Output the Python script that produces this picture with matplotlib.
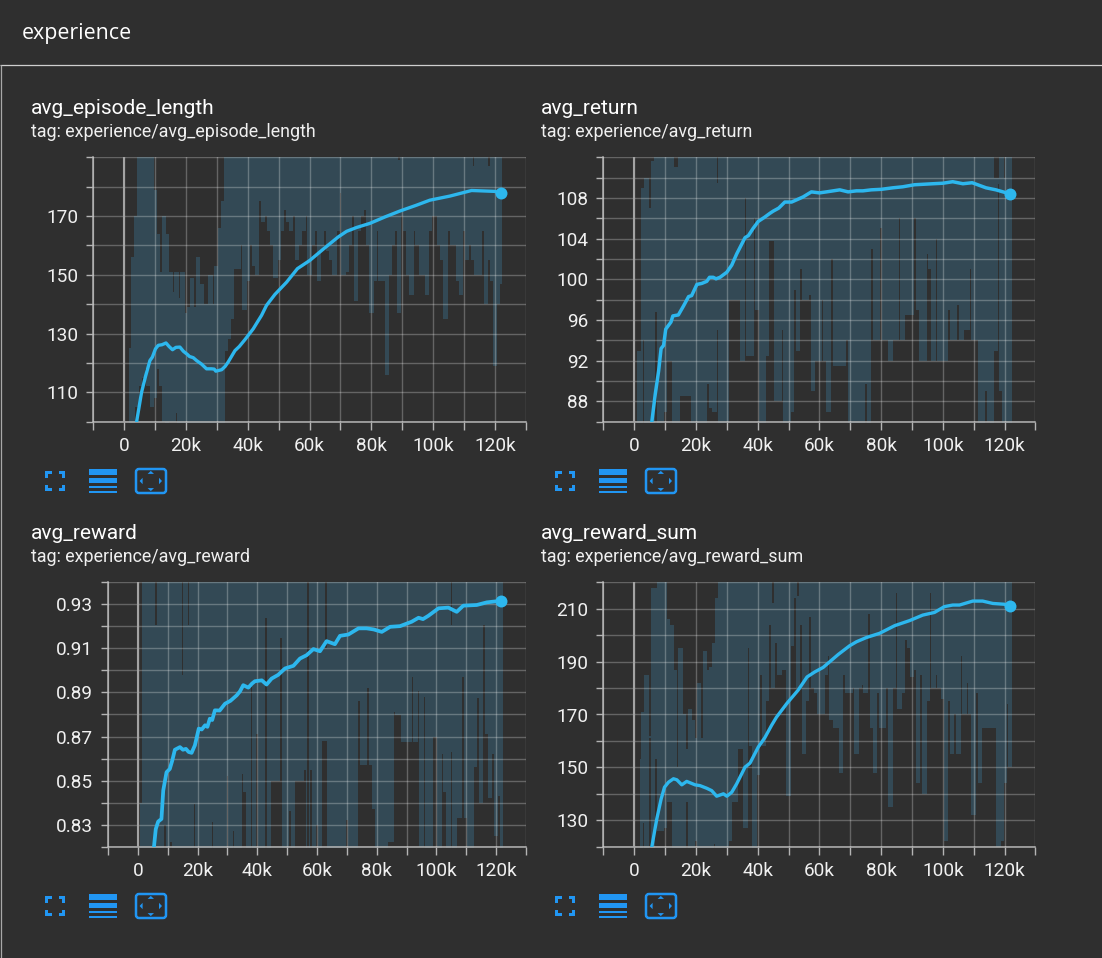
import numpy as np
import matplotlib
matplotlib.use("Agg")
import matplotlib.pyplot as plt
from matplotlib.patches import FancyBboxPatch, Rectangle, Polygon

W, H = 1102, 958
BG = "#2f2f2f"
LINE = "#2db7ee"
BAND = "#48b6f2"
ICON = "#2196f3"
AXIS = "#b4b4b4"
TEXT = "#f0f0f0"
plt.rcParams["font.family"] = ["Roboto", "DejaVu Sans"]

section_title = "experience"
x_tick_steps = list(range(-10000, 130001, 10000))
x_tick_labels = ["" if s < 0 or s % 20000 else ("0" if s == 0 else f"{s // 1000}k") for s in x_tick_steps]

# --- avg_episode_length ---
length_k = [4.1, 5.7, 7, 8.4, 9.2, 10.2, 11.1, 12.3, 13.6, 14.6, 15.7, 16.8, 18.1, 19.2, 20.5, 21.2, 22.4, 23.5, 25.1, 26.7, 28.3, 29.2, 29.7, 31.6, 32.7, 33.7, 35.9, 37.3, 39.1, 41.8, 43.2, 44.5, 46.1, 48.8, 52.6, 56.1, 60.1, 64.4, 69.3, 72, 75.2, 79.5, 84.4, 89.2, 94.6, 98.9, 105.4, 112.4, 119.9, 121.8]
length_val = [100, 110, 115.5, 120.8, 122, 124.8, 126, 126.2, 126.8, 125.6, 124.5, 125.3, 125.4, 124, 122.9, 122.2, 121.8, 120.8, 119.6, 118, 118, 117.9, 117.2, 117.7, 118.8, 120.3, 124.2, 125.6, 127.9, 131.6, 134, 136.2, 139.6, 143.3, 147.5, 152.1, 154.9, 158.7, 162.9, 164.8, 166.1, 167.5, 169.7, 171.7, 173.7, 175.4, 176.8, 178.7, 178.4, 177.8]
length_first = 2
length_lower = [98, 98, 105, 112, 115, 118, 112, 105, 108, 118,
                112, 100, 95, 100, 100, 103, 95, 95, 95, 95,
                95, 95, 95, 95, 99, 95, 95, 95, 95, 95,
                95, 124, 128, 135, 152, 152, 160, 138, 148, 160,
                153, 150, 175, 168, 170, 165, 160, 149, 155, 165,
                172, 168, 165, 170, 155, 160, 165, 170, 150, 160,
                165, 148, 158, 165, 158, 155, 150, 165, 178, 150,
                151, 160, 170, 141, 165, 170, 172, 160, 137, 148,
                165, 148, 148, 116, 150, 160, 165, 137, 170, 165,
                150, 143, 165, 160, 150, 150, 143, 165, 170, 170,
                160, 155, 135, 165, 160, 160, 148, 143, 165, 155,
                160, 155, 150, 150, 165, 140, 155, 148, 119, 140, 147]
length_upper_head = [125, 156, 170, 195, 195, 195, 195, 195, 179, 164,
                     151, 170, 164, 151, 144, 151, 142, 151, 137, 139,
                     149, 139, 156, 147, 140, 140, 150, 140, 153, 166, 175]
length_upper_dips = {113: 187, 118: 187, 89: 189}

# --- avg_return ---
return_k = [5.7, 6.8, 7.9, 8.7, 9.5, 10.2, 11.9, 12.5, 14.3, 16, 17.6, 18.6, 20.3, 21.9, 23.5, 24.4, 25.6, 26.5, 27.8, 30, 31.6, 33.2, 35.9, 37, 38.5, 40.2, 42.2, 44, 45, 46.8, 48.8, 51, 54.7, 57.4, 60, 62.3, 66.6, 69.3, 72, 74.1, 76.8, 80, 83.8, 87, 90.8, 96.8, 100, 103.2, 106.5, 109.5, 114, 117.2, 121.8]
return_val = [86, 88.7, 91, 93.2, 93.5, 95.1, 95.8, 96.4, 96.5, 97.4, 98.3, 98.4, 99.5, 99.6, 99.8, 100.2, 100.2, 100.05, 100.2, 100.7, 101.4, 102.5, 104.1, 104.3, 105, 105.7, 106.1, 106.5, 106.7, 107, 107.6, 107.6, 108.1, 108.6, 108.5, 108.6, 108.8, 108.6, 108.7, 108.7, 108.8, 108.85, 109, 109.1, 109.3, 109.4, 109.45, 109.6, 109.4, 109.5, 109, 108.8, 108.4]
return_first = 1
return_lower = [85, 85, 94, 85, 85, 85, 96.8, 85, 85, 87,
                92, 92, 85, 85, 88.5, 88.5, 88.5, 88.5, 85, 85,
                85, 85, 85, 89.7, 87.3, 87, 95, 85, 85, 85,
                98, 98, 98, 98, 92, 108, 92.5, 92.5, 106, 97,
                85, 85, 92.5, 103.8, 103.8, 88, 88, 95, 85, 85,
                87, 99, 93, 101, 98, 98, 98.5, 89, 92, 92,
                98, 92, 87, 102, 91.5, 91.5, 91.5, 91.5, 94, 85,
                85, 85, 85, 85, 89.7, 85, 103, 94, 94, 105,
                94, 94, 92, 94, 94, 106, 94, 96.5, 96.5, 96.5,
                106, 97, 92, 92, 102.5, 101, 92, 104, 92, 92,
                92, 97, 94, 94, 97.5, 94, 95, 95, 101, 94,
                94, 85, 85, 89, 86, 85, 93, 109.4, 89, 85, 85, 85]
return_upper_head = [93, 93, 109, 110, 107, 111.6]
return_upper_dips = {13: 111, 14: 111, 27: 109.5, 117: 110, 118: 110, 120: 110, 121: 112}

# --- avg_reward ---
reward_k = [5.4, 6, 6.8, 7.9, 8.5, 9.6, 10.7, 11.5, 12.4, 14.1, 15.1, 16.1, 17, 18, 19.1, 20.4, 21.4, 22.5, 23.3, 24.1, 24.9, 25.8, 27.4, 29.2, 31, 33.1, 34.2, 35.3, 37, 38.2, 39.2, 41.5, 43.1, 44.8, 47, 49.3, 52.1, 54.3, 56.5, 58.8, 61, 63.2, 66, 67.7, 70.5, 73.9, 76.6, 79, 81.7, 84.5, 87.8, 91.7, 94, 95.5, 97.3, 100.7, 104, 106.8, 109, 113.5, 116.9, 121.6]
reward_val = [.82, .828, .8314, .8326, .8455, .8538, .8553, .859, .864, .8652, .864, .8644, .8630, .8626, .866, .8736, .8732, .8751, .8744, .8781, .8775, .8819, .8818, .8849, .8862, .8887, .8905, .8933, .8922, .894, .8951, .8955, .8936, .8963, .898, .9009, .9021, .9054, .9069, .9097, .9087, .9133, .9119, .9157, .9163, .9191, .9191, .9186, .9175, .9198, .9201, .9221, .9239, .9233, .9248, .9282, .9285, .9266, .9294, .9297, .9309, .9316]
reward_first, reward_last = 1, 122
reward_floor = 0.81
reward_lower_spikes = {9: .83, 11: .822, 19: .8394, 25: .8311, 30: .852, 32: .827, 35: .853, 36: .845,
                       38: .8925, 40: .871, 43: .924, 45: .85, 46: .85, 47: .85, 48: .9145,
                       51: .836, 53: .85, 54: .85, 55: .85, 56: .855, 58: .855, 60: .83, 62: .868,
                       63: .868, 70: .832, 74: .886, 75: .857, 76: .857, 77: .892, 78: .857, 79: .837,
                       84: .822, 85: .822, 86: .881, 87: .8796, 88: .8796, 89: .8675, 90: .8675,
                       91: .8675, 92: .897, 93: .8675, 94: .8905, 95: .82, 96: .888, 99: .87, 100: .87,
                       102: .862, 103: .845, 105: .863, 107: .833, 108: .833, 109: .897, 110: .833,
                       113: .856, 114: .8875, 115: .84, 116: .9206, 117: .871, 118: .842, 119: .862,
                       120: .825, 121: .843}
reward_upper_head = [.84]
reward_upper_dips = {6: .9206, 15: .898, 17: .9206, 57: .81, 63: .91, 105: .9206}

# --- avg_reward_sum ---
reward_sum_k = [5.7, 7.3, 8.7, 9.8, 11.1, 12.7, 13.8, 15.4, 17, 19.7, 21.3, 23.5, 25.1, 26.7, 28.9, 30, 31.6, 33.2, 35.9, 37.5, 40.2, 42.3, 44.5, 46.1, 49.4, 53.1, 56, 58.5, 61.2, 66.1, 69.8, 72, 75.2, 79.5, 84.4, 89.2, 93.5, 97.3, 100.5, 103.2, 105.4, 109.7, 112.9, 116.2, 119.9, 121.8]
reward_sum_val = [120, 130.5, 138, 142.5, 144.4, 145.7, 145.3, 143.4, 144.7, 143.4, 143.1, 142.1, 141.2, 139.1, 140, 139.1, 140.6, 143.8, 150.1, 151.6, 157.7, 161.2, 165.9, 169, 174.1, 179.2, 184.2, 186.1, 187.8, 192.7, 196, 197.5, 199.1, 200.7, 203.6, 205.5, 207.6, 208.6, 210.8, 211.4, 211.4, 212.9, 212.9, 212, 211.7, 211]
reward_sum_first = 2
reward_sum_lower = [118, 129, 118, 161, 118, 153, 126, 126, 127, 137,
                    137, 118, 118, 118, 118, 137, 118, 118, 122, 118,
                    118, 118, 118, 118, 121, 118, 118, 118, 118, 122,
                    137, 137, 157, 157, 127, 195, 158, 118, 147, 185,
                    158, 175, 204, 180, 197, 185, 187, 187, 139, 196,
                    214, 180, 204, 155, 175, 207, 180, 178, 170, 170,
                    185, 192, 168, 165, 165, 148, 185, 178, 178, 180,
                    155, 180, 181, 178, 208, 165, 148, 178, 165, 165,
                    180, 135, 180, 216, 172, 178, 198, 195, 184, 187,
                    144, 185, 140, 175, 216, 180, 185, 180, 176, 122,
                    175, 155, 170, 155, 192, 170, 182, 170, 132, 178,
                    144, 165, 165, 165, 165, 165, 120, 122, 144, 174, 150]
reward_sum_upper_head = [153, 171, 185, 162, 218, 218, 225, 225, 225, 206,
                         204, 187, 150, 195, 170, 157, 172, 168, 161, 182,
                         161, 194, 187, 188, 197, 214]
reward_sum_upper_dips = {45: 212, 53: 215}


def band_edges(first, lower, head, ceiling, dips):
    """Outline of the raw series: each reading holds for a slim slot, and the
    gap to the next reading takes whichever of the two spreads wider."""
    lower = np.asarray(lower, float)
    upper = np.full(len(lower), float(ceiling))
    upper[:len(head)] = head
    for k, v in dips.items():
        upper[k - first] = v
    k = first + np.arange(len(lower))
    xs = np.empty(2 * len(k))
    xs[0::2] = k - 0.27
    xs[1::2] = k + 0.27
    lo = np.empty(2 * len(k))
    hi = np.empty(2 * len(k))
    lo[0::2] = lower
    hi[0::2] = upper
    lo[1::2] = np.append(np.minimum(lower[:-1], lower[1:]), lower[-1])
    hi[1::2] = np.append(np.maximum(upper[:-1], upper[1:]), upper[-1])
    return xs * 1000.0, lo, hi


reward_lower = [reward_lower_spikes.get(k, reward_floor) for k in range(reward_first, reward_last + 1)]

panels = [
    dict(name="avg_episode_length", left=93, right=526, top=157.3, bottom=421.7, lw=2.4,
         k=length_k, val=length_val, band=band_edges(length_first, length_lower, length_upper_head, 195, length_upper_dips),
         ylim=(100, 190), grid=list(range(100, 191, 10)), labels={110: "110", 130: "130", 150: "150", 170: "170"}),
    dict(name="avg_return", left=603.4, right=1035.4, top=157.3, bottom=421.7, lw=2.5,
         k=return_k, val=return_val, band=band_edges(return_first, return_lower, return_upper_head, 113, return_upper_dips),
         ylim=(86, 112), grid=list(range(86, 113, 2)), labels={88: "88", 92: "92", 96: "96", 100: "100", 104: "104", 108: "108"}),
    dict(name="avg_reward", left=108, right=526, top=582.3, bottom=846.7, lw=2.7,
         k=reward_k, val=reward_val, band=band_edges(reward_first, reward_lower, reward_upper_head, .95, reward_upper_dips),
         ylim=(.82, .94), grid=[round(.82 + i * .01, 2) for i in range(13)],
         labels={.83: "0.83", .85: "0.85", .87: "0.87", .89: "0.89", .91: "0.91", .93: "0.93"}),
    dict(name="avg_reward_sum", left=603.4, right=1035.4, top=582.3, bottom=846.7, lw=2.4,
         k=reward_sum_k, val=reward_sum_val, band=band_edges(reward_sum_first, reward_sum_lower, reward_sum_upper_head, 225, reward_sum_upper_dips),
         ylim=(120, 220), grid=list(range(120, 221, 10)), labels={130: "130", 150: "150", 170: "170", 190: "190", 210: "210"}),
]

fig = plt.figure(figsize=(W / 100, H / 100), dpi=100, facecolor=BG)

# Page furniture lives on a full-size overlay addressed in pixels
page = fig.add_axes([0, 0, 1, 1], zorder=5)
page.set_xlim(0, W)
page.set_ylim(H, 0)
page.axis("off")
page.patch.set_alpha(0)
page.plot([0, W], [64.5, 64.5], color="#cfcfcf", lw=0.9, solid_capstyle="butt")
page.plot([1, 1], [64.5, H], color="#a8a8a8", lw=0.9, solid_capstyle="butt")
page.text(22, 39, section_title, color="white", fontsize=15.4, family=["Open Sans", "DejaVu Sans"], va="baseline")


def draw_icons(dx, dy):
    # fullscreen corners
    x0, x1, y0, y1 = 45 + dx, 65 + dx, 471 + dy, 491 + dy
    arm, t = 6.5, 2.6
    for cx, sx in ((x0, 1), (x1, -1)):
        for cy, sy in ((y0, 1), (y1, -1)):
            page.add_patch(Rectangle((min(cx, cx + sx * arm), min(cy, cy + sy * t)), arm, t, fc=ICON, ec="none"))
            page.add_patch(Rectangle((min(cx, cx + sx * t), min(cy, cy + sy * arm)), t, arm, fc=ICON, ec="none"))
    # stacked list bars
    for top, h in ((469, 6), (478, 4.5), (485.8, 2.4), (491.2, 1.3)):
        page.add_patch(Rectangle((89 + dx, top + dy), 28, h, fc=ICON, ec="none"))
    # fit-to-domain box with four arrowheads
    page.add_patch(FancyBboxPatch((136 + dx, 469 + dy), 30, 24, boxstyle="round,pad=0,rounding_size=3",
                                  fc="none", ec=ICON, lw=1.8))
    cx, cy = 150.8 + dx, 481 + dy
    r = 3.2
    for pts in (
        [(cx - r, 473.9 + dy), (cx + r, 473.9 + dy), (cx, 470.9 + dy)],
        [(cx - r, 488.1 + dy), (cx + r, 488.1 + dy), (cx, 491.1 + dy)],
        [(142.6 + dx, cy - r), (142.6 + dx, cy + r), (139.6 + dx, cy)],
        [(159 + dx, cy - r), (159 + dx, cy + r), (162 + dx, cy)],
    ):
        page.add_patch(Polygon(pts, closed=True, fc=ICON, ec="none"))


for i, p in enumerate(panels):
    col_dx = 0 if i % 2 == 0 else 510
    row_dy = 0 if i < 2 else 425
    page.text(31 + col_dx, 114 + row_dy, p["name"], color="white", fontsize=15, va="baseline")
    page.text(31 + col_dx, 136.5 + row_dy, "tag: experience/" + p["name"], color=TEXT, fontsize=12.9, va="baseline")
    draw_icons(col_dx, row_dy)

    ax = fig.add_axes([p["left"] / W, 1 - p["bottom"] / H, (p["right"] - p["left"]) / W, (p["bottom"] - p["top"]) / H])
    ax.set_facecolor("none")
    ax.set_xlim(-10000, 130000)
    ax.set_ylim(*p["ylim"])

    steps, low, up = p["band"]
    ax.fill_between(steps, low, up, step="post", color=BAND, alpha=0.2, lw=0, zorder=1)

    ax.set_xticks(x_tick_steps)
    ax.set_xticklabels(x_tick_labels)
    ax.set_yticks(p["grid"])
    ax.set_yticklabels([p["labels"].get(g, "") for g in p["grid"]])
    ax.grid(True, color="white", alpha=0.26, lw=1.0, zorder=2)
    ax.set_axisbelow(False)
    ax.tick_params(axis="x", length=5.4, width=1.0, color=AXIS, pad=5.6, labelsize=13.7, labelcolor=TEXT)
    ax.tick_params(axis="y", length=5.4, width=1.0, color=AXIS, pad=5.2, labelsize=13.7, labelcolor=TEXT)
    ax.axvline(0, color="#a3a3a3", lw=1.5, zorder=2.6)
    for side in ("top", "right"):
        ax.spines[side].set_visible(False)
    for side in ("left", "bottom"):
        ax.spines[side].set_color(AXIS)
        ax.spines[side].set_linewidth(1.1)

    xs = np.asarray(p["k"]) * 1000.0
    ax.plot(xs, p["val"], color=LINE, lw=p["lw"], zorder=3, solid_joinstyle="round")
    ax.plot(xs[-1], p["val"][-1], "o", color=LINE, ms=8.6, mew=0, zorder=4, clip_on=False)

fig.savefig("out.png", dpi=100, facecolor=BG)
